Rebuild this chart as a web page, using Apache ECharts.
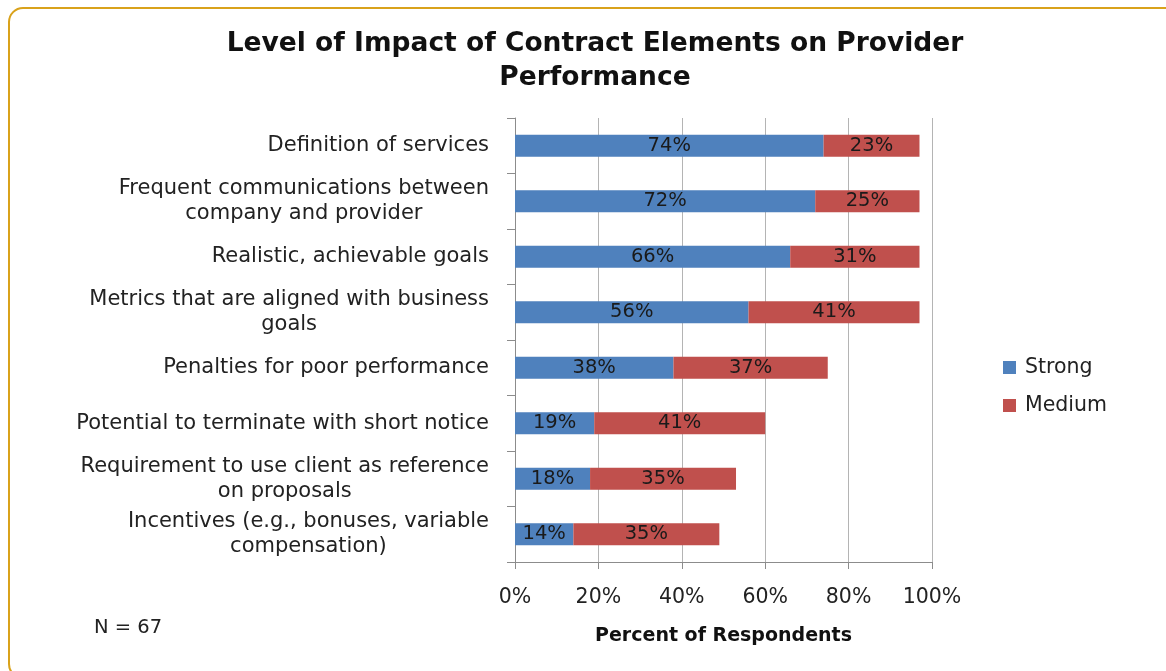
<!DOCTYPE html>
<html>
<head>
<meta charset="utf-8">
<style>
  html, body { margin: 0; padding: 0; background: #ffffff; }
  #chart { width: 1166px; height: 671px; }
</style>
<script src="https://cdn.jsdelivr.net/npm/echarts@6/dist/echarts.min.js"></script>
</head>
<body>
<div id="chart"></div>
<script>
// Contract elements, listed top to bottom
const categories = [
  'Definition of services',
  'Frequent communications between\ncompany and provider',
  'Realistic, achievable goals',
  'Metrics that are aligned with business\ngoals',
  'Penalties for poor performance',
  'Potential to terminate with short notice',
  'Requirement to use client as reference\non proposals',
  'Incentives (e.g., bonuses, variable\ncompensation)'
];
// Share of respondents rating each element's impact (%)
const strongValues = [74, 72, 66, 56, 38, 19, 18, 14];
const mediumValues = [23, 25, 31, 41, 37, 41, 35, 35];
const xTicks = [0, 20, 40, 60, 80, 100];

const font = 'DejaVu Sans';
const chart = echarts.init(document.getElementById('chart'), null, { renderer: 'canvas' });

const segLabel = {
  show: true,
  position: 'inside',
  formatter: p => p.value + '%',
  color: '#1a1a1a',
  fontFamily: font,
  fontSize: 19.5
};

chart.setOption({
  animation: false,
  backgroundColor: '#ffffff',
  title: {
    text: 'Level of Impact of Contract Elements on Provider\nPerformance',
    left: 590,
    textAlign: 'center',
    top: 22,
    textStyle: {
      fontFamily: font,
      fontWeight: 'bold',
      fontSize: 26.5,
      lineHeight: 34,
      color: '#111111'
    }
  },
  legend: {
    orient: 'vertical',
    left: 998,
    top: 352,
    itemWidth: 13,
    itemHeight: 13,
    itemGap: 17,
    icon: 'rect',
    textStyle: { fontFamily: font, fontSize: 20.5, color: '#222222', padding: [0, 0, 0, 4] },
    data: ['Strong', 'Medium']
  },
  grid: { left: 515, right: 234, top: 118, bottom: 109, containLabel: false },
  xAxis: {
    type: 'value',
    min: 0,
    max: 100,
    interval: 20,
    name: 'Percent of Respondents',
    nameLocation: 'middle',
    nameGap: 65,
    nameTextStyle: { fontFamily: font, fontWeight: 'bold', fontSize: 19, color: '#111111' },
    axisLine: { show: true, lineStyle: { color: '#8c8c8c' } },
    axisTick: { show: true, length: 7, lineStyle: { color: '#8c8c8c' } },
    axisLabel: {
      formatter: v => (xTicks.includes(v) ? v + '%' : ''),
      fontFamily: font,
      fontSize: 20.5,
      color: '#222222',
      margin: 25
    },
    splitLine: { show: true, lineStyle: { color: '#b4b4b4', width: 1 } }
  },
  yAxis: {
    type: 'category',
    inverse: true,
    data: categories,
    axisLine: { show: true, lineStyle: { color: '#8c8c8c' } },
    axisTick: { show: true, length: 8, lineStyle: { color: '#8c8c8c' } },
    axisLabel: {
      // each line centred inside a right-anchored block
      formatter: v => v.split('\n').map(line => '{c|' + line + '}').join('\n'),
      rich: {
        c: {
          align: 'center',
          fontFamily: font,
          fontSize: 21,
          lineHeight: 25,
          color: '#222222'
        }
      },
      margin: 26,
      align: 'right'
    },
    splitLine: { show: false }
  },
  series: [
    {
      name: 'Strong',
      type: 'bar',
      stack: 'impact',
      data: strongValues,
      barWidth: 22,
      itemStyle: { color: '#4f81bd' },
      label: segLabel
    },
    {
      name: 'Medium',
      type: 'bar',
      stack: 'impact',
      data: mediumValues,
      barWidth: 22,
      itemStyle: { color: '#c0504d' },
      label: segLabel
    }
  ],
  graphic: [
    {
      type: 'rect',
      shape: { x: 9, y: 8, width: 1180, height: 670, r: 14 },
      style: { fill: 'none', stroke: '#d9a21b', lineWidth: 2 },
      silent: true
    },
    {
      type: 'text',
      left: 94,
      top: 618,
      style: { text: 'N = 67', fontFamily: font, fontSize: 19.5, fill: '#222222' }
    }
  ]
});
</script>
</body>
</html>
